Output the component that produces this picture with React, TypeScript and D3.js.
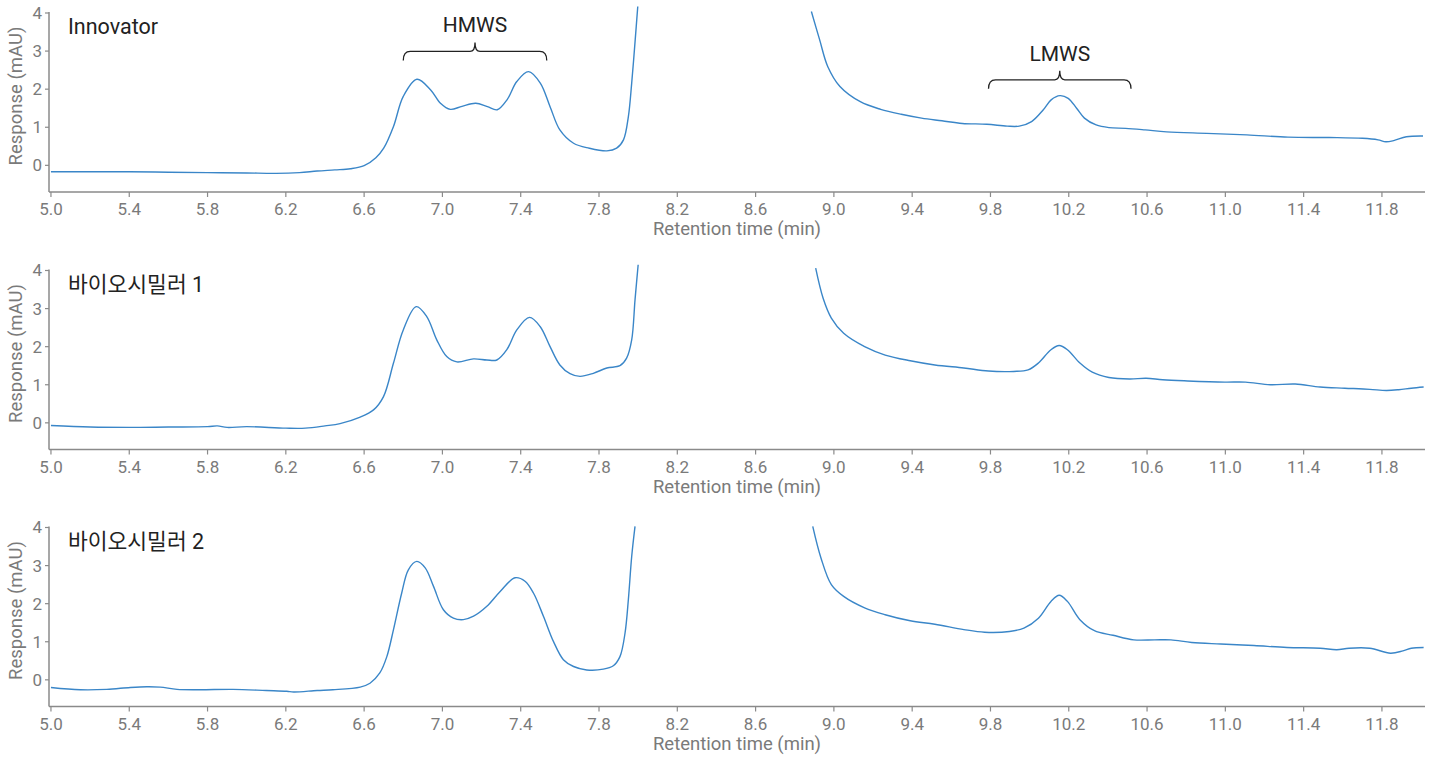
import React from 'react';
import * as d3 from 'd3';

type Pt = [number, number | null];

// panel titles and axis ticks
const panelNames = ['Innovator', '바이오시밀러 1', '바이오시밀러 2'];
const xTickValues = [5.0, 5.4, 5.8, 6.2, 6.6, 7.0, 7.4, 7.8, 8.2, 8.6, 9.0, 9.4, 9.8, 10.2, 10.6, 11.0, 11.4, 11.8];
const yTickValues = [0, 1, 2, 3, 4];

// [retention time (min), response (mAU)] - null = main peak off scale
const innovator: Pt[] = [
  [5.0, -0.17], [5.2, -0.17], [5.4, -0.17], [5.6, -0.18], [5.8, -0.19], [6.0, -0.2], [6.15, -0.21],
  [6.27, -0.19], [6.36, -0.15], [6.45, -0.12], [6.53, -0.09], [6.6, -0.01], [6.66, 0.2], [6.7, 0.45],
  [6.75, 1.02], [6.8, 1.81], [6.87, 2.26], [6.94, 1.98], [6.99, 1.63], [7.04, 1.47], [7.1, 1.55],
  [7.17, 1.63], [7.23, 1.54], [7.28, 1.46], [7.33, 1.72], [7.38, 2.2], [7.44, 2.46], [7.5, 2.16],
  [7.55, 1.54], [7.6, 0.93], [7.67, 0.58], [7.75, 0.45], [7.84, 0.38], [7.89, 0.45], [7.925, 0.67],
  [7.95, 1.28], [7.967, 2.16], [7.985, 3.3], [7.998, 4.17],
  [8.4, null],
  [8.885, 4.04], [8.927, 3.3], [8.969, 2.59], [9.031, 2.07], [9.135, 1.67], [9.239, 1.47], [9.344, 1.34],
  [9.448, 1.24], [9.552, 1.17], [9.656, 1.1], [9.781, 1.08], [9.885, 1.03], [9.947, 1.03], [10.01, 1.15],
  [10.07, 1.46], [10.11, 1.72], [10.155, 1.83], [10.197, 1.76], [10.24, 1.5], [10.28, 1.24], [10.34, 1.06],
  [10.405, 0.99], [10.49, 0.97], [10.59, 0.93], [10.7, 0.88], [10.905, 0.84], [11.11, 0.8], [11.32, 0.74],
  [11.53, 0.73], [11.7, 0.71], [11.78, 0.67], [11.82, 0.62], [11.86, 0.65], [11.925, 0.75], [12.01, 0.77],
];

const biosimilar1: Pt[] = [
  [5.0, -0.07], [5.2, -0.11], [5.4, -0.12], [5.6, -0.11], [5.8, -0.1], [5.85, -0.08], [5.9, -0.12],
  [6.0, -0.1], [6.2, -0.14], [6.3, -0.14], [6.4, -0.08], [6.477, -0.02], [6.58, 0.15], [6.648, 0.34],
  [6.699, 0.69], [6.75, 1.57], [6.8, 2.44], [6.866, 3.05], [6.92, 2.79], [6.971, 2.18], [7.022, 1.74],
  [7.074, 1.6], [7.159, 1.68], [7.227, 1.65], [7.278, 1.65], [7.329, 1.92], [7.38, 2.44], [7.445, 2.77],
  [7.499, 2.53], [7.55, 2.0], [7.6, 1.52], [7.652, 1.29], [7.703, 1.22], [7.771, 1.3], [7.84, 1.44],
  [7.907, 1.5], [7.941, 1.7], [7.967, 2.18], [7.984, 3.23], [8.0, 4.15],
  [8.4, null],
  [8.907, 4.06], [8.945, 3.27], [8.987, 2.75], [9.05, 2.35], [9.157, 2.0], [9.262, 1.78], [9.39, 1.63],
  [9.516, 1.52], [9.664, 1.44], [9.79, 1.36], [9.918, 1.35], [9.992, 1.39], [10.045, 1.57], [10.109, 1.92],
  [10.151, 2.03], [10.193, 1.92], [10.257, 1.57], [10.32, 1.33], [10.405, 1.19], [10.511, 1.15],
  [10.595, 1.17], [10.68, 1.13], [10.807, 1.1], [10.997, 1.07], [11.103, 1.07], [11.23, 1.0], [11.357, 1.02],
  [11.484, 0.94], [11.61, 0.91], [11.738, 0.88], [11.823, 0.85], [11.886, 0.87], [11.95, 0.91], [12.013, 0.94],
];

const biosimilar2: Pt[] = [
  [5.0, -0.2], [5.15, -0.26], [5.285, -0.25], [5.405, -0.2], [5.49, -0.18], [5.558, -0.19], [5.644, -0.25],
  [5.76, -0.26], [5.93, -0.25], [6.1, -0.28], [6.205, -0.3], [6.24, -0.32], [6.36, -0.28], [6.44, -0.26],
  [6.58, -0.19], [6.63, -0.09], [6.68, 0.18], [6.716, 0.61], [6.75, 1.32], [6.792, 2.28], [6.826, 2.89],
  [6.869, 3.11], [6.912, 2.94], [6.954, 2.46], [7.005, 1.84], [7.056, 1.62], [7.107, 1.58], [7.159, 1.67],
  [7.227, 1.93], [7.295, 2.32], [7.371, 2.68], [7.422, 2.59], [7.465, 2.28], [7.516, 1.67], [7.567, 1.01],
  [7.618, 0.53], [7.67, 0.35], [7.737, 0.26], [7.822, 0.28], [7.873, 0.37], [7.907, 0.61], [7.933, 1.23],
  [7.95, 2.11], [7.967, 3.24], [7.984, 4.03],
  [8.4, null],
  [8.892, 4.03], [8.934, 3.2], [8.987, 2.5], [9.05, 2.19], [9.157, 1.89], [9.262, 1.71], [9.39, 1.55],
  [9.516, 1.46], [9.664, 1.32], [9.77, 1.25], [9.897, 1.27], [9.971, 1.36], [10.045, 1.62], [10.109, 2.06],
  [10.151, 2.22], [10.193, 2.06], [10.257, 1.58], [10.331, 1.29], [10.426, 1.17], [10.532, 1.05],
  [10.638, 1.05], [10.722, 1.05], [10.828, 0.98], [10.976, 0.94], [11.146, 0.9], [11.315, 0.85],
  [11.484, 0.83], [11.569, 0.79], [11.632, 0.83], [11.738, 0.83], [11.844, 0.7], [11.907, 0.76],
  [11.95, 0.83], [12.013, 0.85],
];

const series = [innovator, biosimilar1, biosimilar2];

// brace annotations on the first panel
const braceLabels = ['HMWS', 'LMWS'];
const braceRanges = [[6.8, 7.533], [9.79, 10.518]];
const braceLevels = [2.99, 2.245];

const W = 1439;
const H = 760;
const left = 49;
const right = 1425;
const panelTops = [13, 270.5, 527.5];
const plotH = 179;
const font = 'Roboto, "Noto Sans CJK KR", sans-serif';
const axisColor = '#8a8a8a';
const tickText = '#7a7a7a';
const lineColor = '#3a86c8';

const x = d3.scaleLinear().domain([4.99, 12.02]).range([left, right]);

function bracePath(x1: number, x2: number, yl: number) {
  const mid = (x1 + x2) / 2;
  return `M${x1},${yl + 9} Q${x1},${yl} ${x1 + 7},${yl} L${mid - 5},${yl} Q${mid},${yl} ${mid},${yl - 9} ` +
    `Q${mid},${yl} ${mid + 5},${yl} L${x2 - 7},${yl} Q${x2},${yl} ${x2},${yl + 9}`;
}

const Panel = ({ idx }: { idx: number }) => {
  const top = panelTops[idx];
  const bottom = top + plotH;
  const y = d3.scaleLinear().domain([-0.7, 4]).range([bottom, top]);
  const line = d3
    .line<Pt>()
    .defined((d) => d[1] !== null)
    .x((d) => x(d[0]))
    .y((d) => y(d[1] as number))
    .curve(d3.curveCatmullRom.alpha(0.5));

  return (
    <g>
      <path d={line(series[idx]) || ''} fill="none" stroke={lineColor} strokeWidth={1.4} />
      <line x1={left} x2={right} y1={bottom} y2={bottom} stroke={axisColor} strokeWidth={1.5} />
      <line x1={left} x2={left} y1={top - 1} y2={bottom} stroke={axisColor} strokeWidth={1.5} />
      {xTickValues.map((t) => (
        <g key={t}>
          <line x1={x(t)} x2={x(t)} y1={bottom} y2={bottom + 5} stroke={axisColor} strokeWidth={1.2} />
          <text x={x(t)} y={bottom + 23} textAnchor="middle" fontSize={17} fill={tickText}>
            {t.toFixed(1)}
          </text>
        </g>
      ))}
      {yTickValues.map((v) => (
        <g key={v}>
          <line x1={left - 4} x2={left} y1={y(v)} y2={y(v)} stroke={axisColor} strokeWidth={1.2} />
          <text x={left - 7} y={y(v)} dy="0.35em" textAnchor="end" fontSize={17} fill={tickText}>
            {v}
          </text>
        </g>
      ))}
      <text x={(left + right) / 2} y={bottom + 43} textAnchor="middle" fontSize={18.5} fill={tickText}>
        Retention time (min)
      </text>
      <text
        transform={`translate(15.5,${top + 83}) rotate(-90)`}
        dy="0.35em"
        textAnchor="middle"
        fontSize={18.5}
        fill={tickText}
      >
        Response (mAU)
      </text>
      <text x={68} y={top + 21} fontSize={21.5} fill="#222">
        {panelNames[idx]}
      </text>
      {idx === 0 &&
        braceLabels.map((lab, i) => {
          const [a, b] = braceRanges[i];
          const yl = y(braceLevels[i]);
          return (
            <g key={lab}>
              <path d={bracePath(x(a), x(b), yl)} fill="none" stroke="#222" strokeWidth={1.3} />
              <text x={(x(a) + x(b)) / 2} y={yl - 19} textAnchor="middle" fontSize={21} fill="#222">
                {lab}
              </text>
            </g>
          );
        })}
    </g>
  );
};

export default function App() {
  return (
    <svg
      width={W}
      height={H}
      style={{ position: 'absolute', left: 0, top: 0, background: '#fff', fontFamily: font }}
    >
      {panelTops.map((_, i) => (
        <Panel key={i} idx={i} />
      ))}
    </svg>
  );
}
